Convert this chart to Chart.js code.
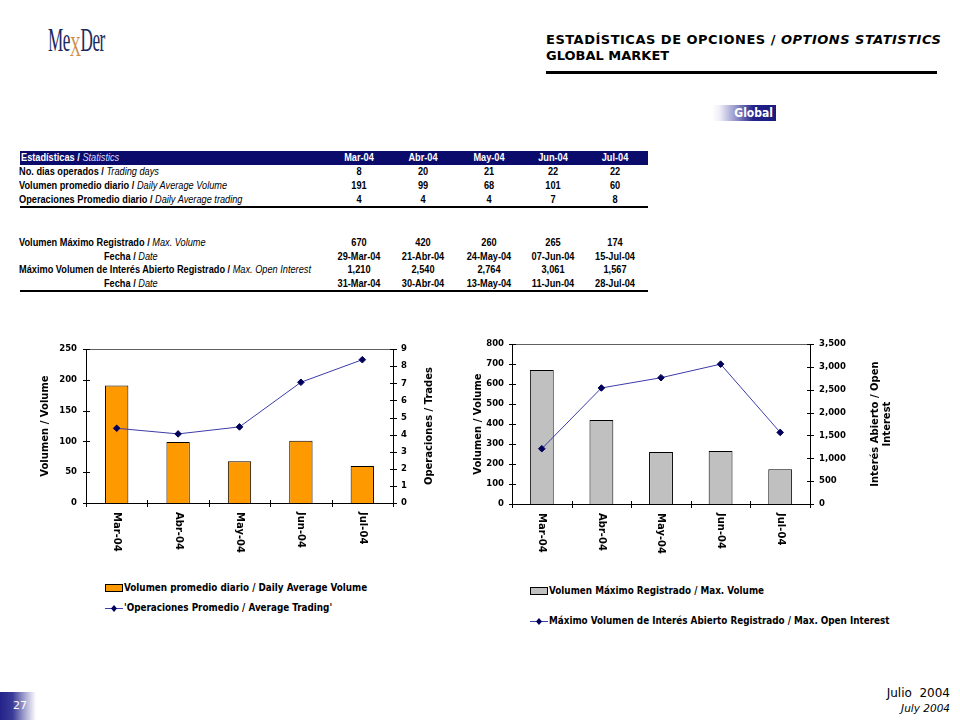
<!DOCTYPE html>
<html lang="es"><head><meta charset="utf-8">
<title>Estadísticas de Opciones / Options Statistics</title>
<script src="https://cdn.jsdelivr.net/npm/chart.js@4.4.1/dist/chart.umd.min.js"></script>
<style>
html,body{margin:0;padding:0;background:#fff;}
body{width:960px;height:720px;position:relative;overflow:hidden;font-family:"DejaVu Sans",Verdana,sans-serif;color:#000;}
.a{position:absolute;white-space:nowrap;}
#logo{left:48px;top:22px;font-family:"Liberation Serif","DejaVu Serif",serif;font-size:33px;line-height:36px;color:#1b2a5e;transform:scaleX(0.52);transform-origin:0 0;letter-spacing:-1px;}
#logo .x{color:#cf8d45;font-size:30px;position:relative;top:5px;font-weight:normal;}
.hdr{left:546px;font-weight:bold;font-size:13px;line-height:16px;}
#rule{left:546px;top:71px;width:391px;height:3px;background:#000;}
#badge{left:712px;top:105px;width:64px;height:16px;background:linear-gradient(to right,#ffffff 0%,#eeeef8 12%,#8a8ac4 40%,#22228a 65%,#1a1a80 100%);}
#badge span{position:absolute;right:3px;top:0;font-family:"DejaVu Sans Condensed","DejaVu Sans";font-stretch:condensed;font-weight:bold;font-size:12px;line-height:16px;color:#fff;}
.t{font-family:"Liberation Sans",Arial,sans-serif;font-size:11.5px;line-height:13px;transform:scaleX(0.8);transform-origin:0 0;}
.t b{font-weight:bold;}
.t i{font-weight:normal;font-style:italic;}
.num{font-weight:bold;text-align:center;width:80px;transform-origin:50% 0;}
#thead{left:20px;top:151px;width:628px;height:14px;background:#0b0b6c;}
.hline{background:#000;height:2px;left:20px;width:628px;}
canvas{position:absolute;}
.lg{font-family:"DejaVu Sans Condensed","DejaVu Sans";font-stretch:condensed;font-weight:bold;font-size:9.8px;line-height:12px;}
.lg svg{position:absolute;left:0;top:0;}
.lg span{position:absolute;top:0;}
#foot1{right:10px;top:686px;font-size:12px;color:#000;}
#foot2{right:10px;top:702px;font-size:10.5px;font-style:italic;color:#000;}
#pg{left:0;top:692px;width:36px;height:28px;background:linear-gradient(to right,#23238a 0%,#3a3a98 35%,#9a9acb 65%,#ffffff 100%);}
#pg span{position:absolute;left:13px;top:7px;color:#fff;font-size:11px;}
</style>
</head>
<body>
<div id="logo" class="a">Me<span class="x">X</span>Der</div>
<div class="a hdr" style="top:32px;letter-spacing:0.5px">ESTADÍSTICAS DE OPCIONES / <i>OPTIONS STATISTICS</i></div>
<div class="a hdr" style="top:48px">GLOBAL MARKET</div>
<div id="rule" class="a"></div>
<div id="badge" class="a"><span>Global</span></div>

<div id="table"></div>

<canvas id="c1" width="420" height="230" style="left:30px;top:335px;width:420px;height:230px"></canvas>
<canvas id="c2" width="430" height="235" style="left:465px;top:330px;width:430px;height:235px"></canvas>
<div id="legends"></div>

<div id="pg" class="a"><span>27</span></div>
<div id="foot1" class="a">Julio&nbsp; 2004</div>
<div id="foot2" class="a">July 2004</div>

<script>
// ---------------- DATA ----------------
const months = ['Mar-04', 'Abr-04', 'May-04', 'Jun-04', 'Jul-04'];
const tradingDays = [8, 20, 21, 22, 22];
const dailyAvgVolume = [191, 99, 68, 101, 60];
const dailyAvgTrading = [4, 4, 4, 7, 8];            // as printed (rounded) in the table
const avgTradingPlotted = [4.37, 4.04, 4.45, 7.06, 8.38]; // as plotted in the chart
const maxVolume = [670, 420, 260, 265, 174];
const maxVolumeDate = ['29-Mar-04', '21-Abr-04', '24-May-04', '07-Jun-04', '15-Jul-04'];
const maxOpenInterest = [1210, 2540, 2764, 3061, 1567];
const maxOpenInterestDate = ['31-Mar-04', '30-Abr-04', '13-May-04', '11-Jun-04', '28-Jul-04'];

const volTicks1 = {min: 0, max: 250, step: 50};
const tradeTicks1 = {min: 0, max: 9, step: 1};
const volTicks2 = {min: 0, max: 800, step: 100};
const oiTicks2 = {min: 0, max: 3500, step: 500};

const seriesLabels = {
  avgVolume: 'Volumen promedio diario / Daily Average Volume',
  avgTrading: "'Operaciones Promedio / Average Trading'",
  maxVolume: 'Volumen Máximo Registrado / Max. Volume',
  maxOI: 'Máximo Volumen de Interés Abierto Registrado / Max. Open Interest'
};
const axisTitles = {
  vol: 'Volumen / Volume',
  trades: 'Operaciones / Trades',
  oi: ['Interés Abierto / Open', 'Interest']
};

// ---------------- TABLE ----------------
const fmt = v => typeof v === 'number' ? v.toLocaleString('en-US') : v;
const colX = [319, 383, 449, 513, 575]; // left of 80px centred cells (layout)
const tableRows = [
  {es: 'No. dias operados', en: 'Trading days', vals: tradingDays, y: 165},
  {es: 'Volumen promedio diario', en: 'Daily Average Volume', vals: dailyAvgVolume, y: 179},
  {es: 'Operaciones Promedio diario', en: 'Daily Average trading', vals: dailyAvgTrading, y: 193},
  {es: 'Volumen Máximo Registrado', en: 'Max. Volume', vals: maxVolume, y: 236},
  {es: 'Fecha', en: 'Date', vals: maxVolumeDate, y: 250, indent: 85},
  {es: 'Máximo Volumen de Interés Abierto Registrado', en: 'Max. Open Interest', vals: maxOpenInterest, y: 263},
  {es: 'Fecha', en: 'Date', vals: maxOpenInterestDate, y: 277, indent: 85}
];
let html = '<div id="thead" class="a"></div>';
html += '<div class="a t" style="left:21px;top:151px;color:#fff"><b>Estadísticas /</b> <i style="color:#d8d8ff">Statistics</i></div>';
months.forEach((m, i) => {
  html += `<div class="a t num" style="left:${colX[i]}px;top:151px;color:#fff">${m}</div>`;
});
tableRows.forEach(r => {
  html += `<div class="a t" style="left:${19 + (r.indent || 0)}px;top:${r.y}px"><b>${r.es} /</b> <i>${r.en}</i></div>`;
  r.vals.forEach((v, i) => {
    html += `<div class="a t num" style="left:${colX[i]}px;top:${r.y}px">${fmt(v)}</div>`;
  });
});
html += '<div class="a hline" style="top:206px"></div>';
html += '<div class="a hline" style="top:290px"></div>';
document.getElementById('table').innerHTML = html;

// ---------------- LEGENDS (HTML) ----------------
function boxItem(left, top, color, text) {
  return `<div class="a lg" style="left:${left}px;top:${top}px;width:400px;height:12px">
    <svg width="19" height="12"><rect x="0.5" y="2.5" width="17" height="7" fill="${color}" stroke="#000" stroke-width="1"/></svg>
    <span style="left:19px">${text}</span></div>`;
}
function lineItem(left, top, text) {
  return `<div class="a lg" style="left:${left}px;top:${top}px;width:420px;height:12px">
    <svg width="19" height="12"><line x1="0" y1="6.5" x2="18" y2="6.5" stroke="#3c3ca8" stroke-width="1"/><path d="M9 3 L12 6.5 L9 10 L6 6.5 Z" fill="#00005a"/></svg>
    <span style="left:19px">${text}</span></div>`;
}
document.getElementById('legends').innerHTML =
  boxItem(105, 582, '#FF9900', seriesLabels.avgVolume) +
  lineItem(105, 602, seriesLabels.avgTrading) +
  boxItem(530, 585, '#C0C0C0', seriesLabels.maxVolume) +
  lineItem(530, 615, seriesLabels.maxOI);

// ---------------- CHARTS ----------------
const tickFont = {family: 'DejaVu Sans', size: 8.5, weight: 'bold'};
const titleFont = {family: 'DejaVu Sans', size: 10, weight: 'bold'};

const excelAxes = {
  id: 'excelAxes',
  afterDatasetsDraw(chart, args, opts) {
    const {ctx, chartArea: a, scales} = chart;
    ctx.save();
    // top border of plot area
    ctx.strokeStyle = '#606060';
    ctx.lineWidth = 1;
    ctx.beginPath();
    ctx.moveTo(a.left, Math.round(a.top) + 0.5);
    ctx.lineTo(a.right, Math.round(a.top) + 0.5);
    ctx.stroke();
    // cross tick marks
    ctx.strokeStyle = '#000';
    ctx.beginPath();
    [['y', a.left], ['y1', a.right]].forEach(([id, x]) => {
      const s = scales[id];
      s.ticks.forEach(t => {
        const py = Math.round(s.getPixelForValue(t.value)) + 0.5;
        ctx.moveTo(Math.round(x) - 3, py);
        ctx.lineTo(Math.round(x) + 4, py);
      });
    });
    const sx = scales.x;
    const n = sx.ticks.length;
    for (let i = 0; i <= n; i++) {
      const px = i === 0 ? a.left : i === n ? a.right : (sx.getPixelForValue(i - 1) + sx.getPixelForValue(i)) / 2;
      const xx = Math.round(px) + 0.5;
      ctx.moveTo(xx, a.bottom - 3);
      ctx.lineTo(xx, a.bottom + 4);
    }
    ctx.stroke();
    // category labels, reading top to bottom
    ctx.fillStyle = '#000';
    ctx.font = 'bold 10px "DejaVu Sans"';
    ctx.textAlign = 'left';
    ctx.textBaseline = 'middle';
    sx.ticks.forEach((t, i) => {
      ctx.save();
      ctx.translate(sx.getPixelForValue(i), a.bottom + 9);
      ctx.rotate(Math.PI / 2);
      ctx.fillText(sx.getLabelForValue(t.value), 0, 0);
      ctx.restore();
    });
    // right axis title, reading bottom to top
    const lines = Array.isArray(opts.rightTitle) ? opts.rightTitle : [opts.rightTitle];
    ctx.font = 'bold 10px "DejaVu Sans"';
    ctx.textAlign = 'center';
    lines.forEach((line, k) => {
      ctx.save();
      ctx.translate(a.right + opts.rightTitleOffset + k * 12, (a.top + a.bottom) / 2);
      ctx.rotate(-Math.PI / 2);
      ctx.fillText(line, 0, 0);
      ctx.restore();
    });
    ctx.restore();
  }
};

function makeChart(canvasId, cfg) {
  return new Chart(document.getElementById(canvasId), {
    data: {
      labels: months,
      datasets: [
        {
          type: 'line', label: cfg.lineLabel, data: cfg.lineData, yAxisID: 'y1', order: 0,
          borderColor: '#3c3ca8', borderWidth: 1, tension: 0,
          pointStyle: 'rectRot', pointRadius: 3.3, pointBackgroundColor: '#00005a',
          pointBorderColor: '#00005a', pointBorderWidth: 1
        },
        {
          type: 'bar', label: cfg.barLabel, data: cfg.barData, yAxisID: 'y', order: 1,
          backgroundColor: cfg.barColor, borderColor: '#000', borderWidth: 1,
          categoryPercentage: 1, barPercentage: cfg.barPct
        }
      ]
    },
    options: {
      responsive: false, animation: false, locale: 'en-US',
      layout: {padding: {top: cfg.padTop, left: 0, right: 0, bottom: 0}},
      plugins: {
        legend: {display: false}, tooltip: {enabled: false},
        excelAxes: {rightTitle: cfg.rightTitle, rightTitleOffset: cfg.rightTitleOffset}
      },
      scales: {
        x: {
          type: 'category', offset: true,
          grid: {display: false, drawTicks: false}, border: {display: true, color: '#000', width: 1},
          ticks: {display: false},
          afterFit: s => { s.height = cfg.xHeight; }
        },
        y: {
          position: 'left', min: cfg.yTicks.min, max: cfg.yTicks.max,
          grid: {display: false, drawTicks: false}, border: {display: true, color: '#000', width: 1},
          ticks: {stepSize: cfg.yTicks.step, font: tickFont, color: '#000', padding: cfg.yPad},
          title: {display: true, text: axisTitles.vol, font: titleFont, color: '#000', padding: {top: cfg.yTitlePad, bottom: 0}},
          afterFit: s => { s.width = cfg.yWidth; }
        },
        y1: {
          position: 'right', min: cfg.y1Ticks.min, max: cfg.y1Ticks.max,
          grid: {display: false, drawTicks: false}, border: {display: true, color: '#000', width: 1},
          ticks: {stepSize: cfg.y1Ticks.step, font: tickFont, color: '#000', padding: cfg.y1Pad},
          afterFit: s => { s.width = cfg.y1Width; }
        }
      }
    },
    plugins: [excelAxes]
  });
}

makeChart('c1', {
  barLabel: seriesLabels.avgVolume, barData: dailyAvgVolume, barColor: '#FF9900', barPct: 0.38,
  lineLabel: seriesLabels.avgTrading, lineData: avgTradingPlotted,
  yTicks: volTicks1, y1Ticks: tradeTicks1,
  padTop: 13, xHeight: 62, yWidth: 56, y1Width: 57, yPad: 9, y1Pad: 8, yTitlePad: 9,
  rightTitle: axisTitles.trades, rightTitleOffset: 36
});
makeChart('c2', {
  barLabel: seriesLabels.maxVolume, barData: maxVolume, barColor: '#C0C0C0', barPct: 0.40,
  lineLabel: seriesLabels.maxOI, lineData: maxOpenInterest,
  yTicks: volTicks2, y1Ticks: oiTicks2,
  padTop: 14, xHeight: 61, yWidth: 47, y1Width: 85, yPad: 8, y1Pad: 9, yTitlePad: 7,
  rightTitle: axisTitles.oi, rightTitleOffset: 65
});
</script>
</body></html>
